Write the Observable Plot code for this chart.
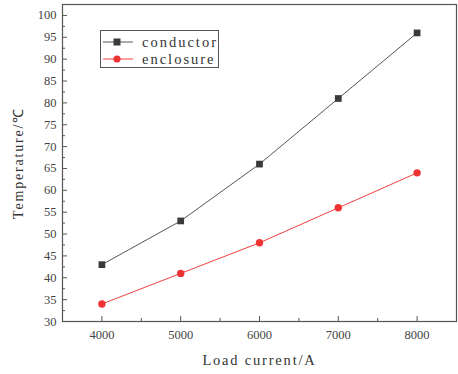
<!DOCTYPE html>
<html><head><meta charset="utf-8">
<script src="https://cdn.jsdelivr.net/npm/d3@7"></script>
<script src="https://cdn.jsdelivr.net/npm/@observablehq/plot@0.6"></script>
<style>
body{margin:0;background:#fff;}
#wrap{position:relative;width:458px;height:374px;}
#legend{position:absolute;left:100px;top:30px;width:117px;height:36px;border:1px solid #555;background:#fff;font-family:"Liberation Serif",serif;font-size:14.5px;letter-spacing:2px;color:#333;}
.row{position:absolute;left:0;height:16px;display:flex;align-items:center;white-space:nowrap;}
.row span{margin-left:7px;}
svg text{font-family:"Liberation Serif",serif;}
svg text.lab{letter-spacing:1.8px;}
</style></head>
<body><div id="wrap"><div id="legend"></div></div>
<script>
const loads = [4000, 5000, 6000, 7000, 8000];
const conductor = [43, 53, 66, 81, 96];
const enclosure = [34, 41, 48, 56, 64];
const xTicks = [4000, 5000, 6000, 7000, 8000];
const xMinor = [3500, 4500, 5500, 6500, 7500];
const yTicks = [30,35,40,45,50,55,60,65,70,75,80,85,90,95,100];
const yMinor = [32.5,37.5,42.5,47.5,52.5,57.5,62.5,67.5,72.5,77.5,82.5,87.5,92.5,97.5];
const seriesNames = ["conductor", "enclosure"];
const colors = {conductor: "#3a3a3a", enclosure: "#ee3333"};
const lineColors = {conductor: "#555555", enclosure: "#f04040"};

const data = [];
loads.forEach((x, i) => {
  data.push({load: x, temp: conductor[i], s: "conductor"});
  data.push({load: x, temp: enclosure[i], s: "enclosure"});
});
const cond = data.filter(d => d.s === "conductor");
const encl = data.filter(d => d.s === "enclosure");

const serif = '"Liberation Serif", serif';
const chart = Plot.plot({
  width: 458, height: 374,
  marginLeft: 62, marginRight: 2, marginTop: 4, marginBottom: 53,
  style: {fontFamily: serif, fontSize: "12px", color: "#444", background: "#fff"},
  x: {domain: [3500, 8500]},
  y: {domain: [30, 102.5]},
  marks: [
    Plot.frame({stroke: "#555", strokeWidth: 1.2}),
    Plot.axisX({ticks: xTicks, tickSize: -5, tickFormat: d => String(d), tickPadding: 14, fontSize: 12.5, fontFamily: serif, label: null, stroke: "#555"}),
    Plot.axisX({ticks: xMinor, tickSize: -3, text: null, label: null, stroke: "#555"}),
    Plot.axisY({ticks: yTicks, tickSize: -5, tickPadding: 11, fontSize: 12.5, fontFamily: serif, label: null, stroke: "#555"}),
    Plot.axisY({ticks: yMinor, tickSize: -3, text: null, label: null, stroke: "#555"}),
    Plot.line(cond, {x: "load", y: "temp", stroke: lineColors.conductor, strokeWidth: 1}),
    Plot.line(encl, {x: "load", y: "temp", stroke: lineColors.enclosure, strokeWidth: 1}),
    Plot.dot(cond, {x: "load", y: "temp", symbol: "square", r: 3.8, fill: colors.conductor, stroke: "none"}),
    Plot.dot(encl, {x: "load", y: "temp", symbol: "circle", r: 3.7, fill: colors.enclosure, stroke: "none"}),
    Plot.text(["Temperature/℃"], {frameAnchor: "left", textAnchor: "middle", rotate: -90, dx: -44, fontSize: 14, fill: "#333"}),
    Plot.text(["Load current/A"], {frameAnchor: "bottom", textAnchor: "middle", dy: 43, fontSize: 14.5, fill: "#333"})
  ]
});
chart.querySelectorAll("text").forEach(t => {
  const txt = t.textContent;
  if (txt === "Temperature/℃" || txt === "Load current/A") t.setAttribute("class", "lab");
});
document.getElementById("wrap").prepend(chart);

const legend = document.getElementById("legend");
seriesNames.forEach((name, i) => {
  const row = document.createElement("div");
  row.className = "row";
  row.style.top = (3 + i * 17) + "px";
  const sym = name === "conductor"
    ? `<rect x="12.5" y="4.5" width="7" height="7" fill="${colors[name]}"/>`
    : `<circle cx="16" cy="8" r="3.6" fill="${colors[name]}"/>`;
  row.innerHTML = `<svg width="34" height="16"><line x1="2" x2="32" y1="8" y2="8" stroke="${lineColors[name]}" stroke-width="1"/>${sym}</svg><span>${name}</span>`;
  legend.appendChild(row);
});
</script>
</body></html>
